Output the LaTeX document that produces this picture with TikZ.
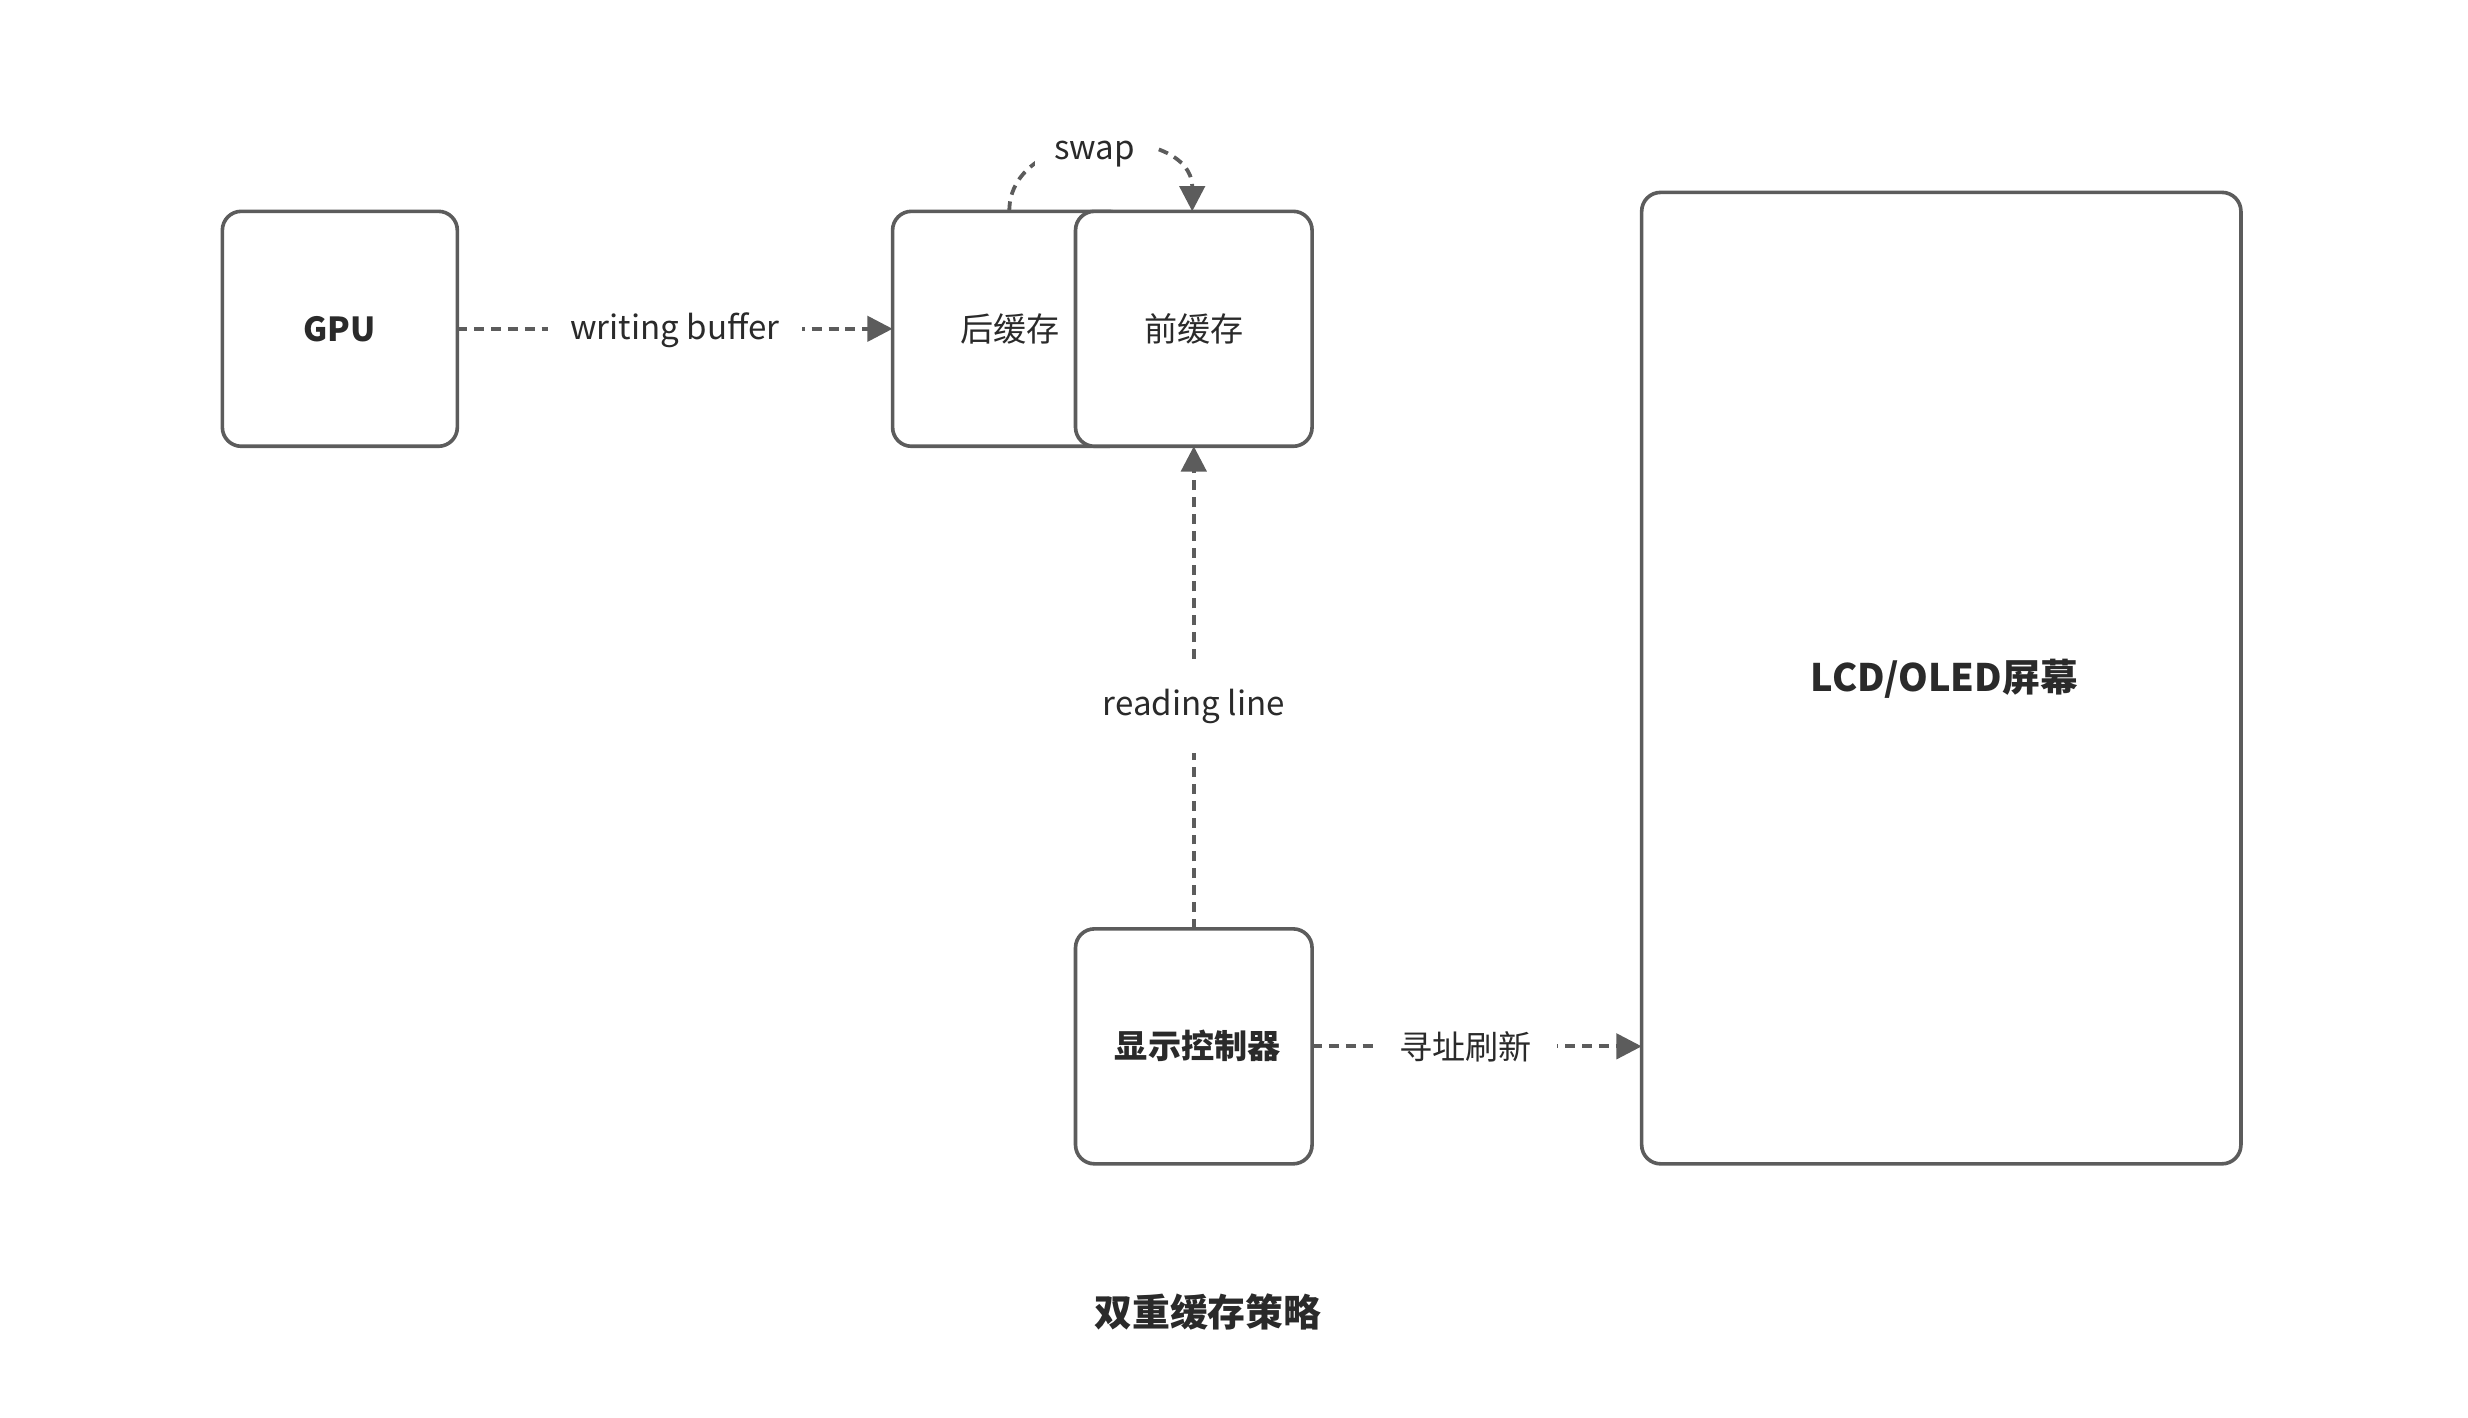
\documentclass[tikz,border=0pt]{standalone}
\usepackage{fontspec}
\setmainfont{Noto Sans CJK SC}
\usetikzlibrary{arrows.meta}
\definecolor{linec}{HTML}{5C5C5C}
\definecolor{textc}{HTML}{2A2A2A}
\begin{document}
\begin{tikzpicture}[x=1pt,y=-1pt,
  box/.style={draw=linec,line width=2.3pt,rounded corners=12pt,fill=white},
  conn/.style={draw=linec,line width=2.4pt,dash pattern=on 6.3pt off 4.4pt,-{Triangle[length=16pt,width=16pt]}},
  lbl/.style={fill=white,text=textc,font=\fontsize{21}{25}\selectfont,inner sep=2pt},
  txt/.style={text=textc,font=\fontsize{21}{25}\selectfont},
  btxt/.style={text=textc,font=\fontsize{21}{25}\selectfont\bfseries}]
\useasboundingbox (0,0) rectangle (1565,899);
% boxes
\draw[box] (141,134) rectangle (290,283);
\node[btxt] (gpu) at (215.5,208.5) {GPU};
\coordinate (gpuR) at (290,208.5);
\draw[box] (566,134) rectangle (715,283);
\draw[box] (682,134) rectangle (832,283);
\node[txt] (back) at (640.5,208.5) {后缓存};
\node[txt] (front) at (757,208.5) {前缓存};
\coordinate (backL) at (566,208.5);
\coordinate (backT) at (640,134);
\coordinate (frontT) at (756,134);
\coordinate (frontB) at (757,283);
\draw[box] (682,589) rectangle (832,738);
\node[btxt] (ctrl) at (759.5,663) {显示控制器};
\coordinate (ctrlT) at (757,589);
\coordinate (ctrlR) at (832,663.5);
\draw[box] (1041,122) rectangle (1421,738);
\node[btxt,font=\fontsize{24}{28}\selectfont\bfseries] (lcd) at (1233,430.5) {LCD/OLED屏幕};
\coordinate (lcdL) at (1041,663.5);
% connectors
\draw[conn] (gpuR) -- node[lbl,inner xsep=14pt,yshift=-1pt] {writing buffer} (backL);
\draw[conn] (ctrlT) -- node[lbl,inner ysep=18pt,pos=0.46] {reading line} (frontB);
\draw[conn] (ctrlR) -- node[lbl,inner xsep=16pt,pos=0.465] {寻址刷新} (lcdL);
\draw[conn] (backT) .. controls (640,78) and (756,78) .. node[lbl,inner xsep=12pt,yshift=-6pt,xshift=-4pt] {swap} (frontT);
% title
\node[btxt,font=\fontsize{24}{28}\selectfont\bfseries] (title) at (766,832) {双重缓存策略};
\end{tikzpicture}
\end{document}
